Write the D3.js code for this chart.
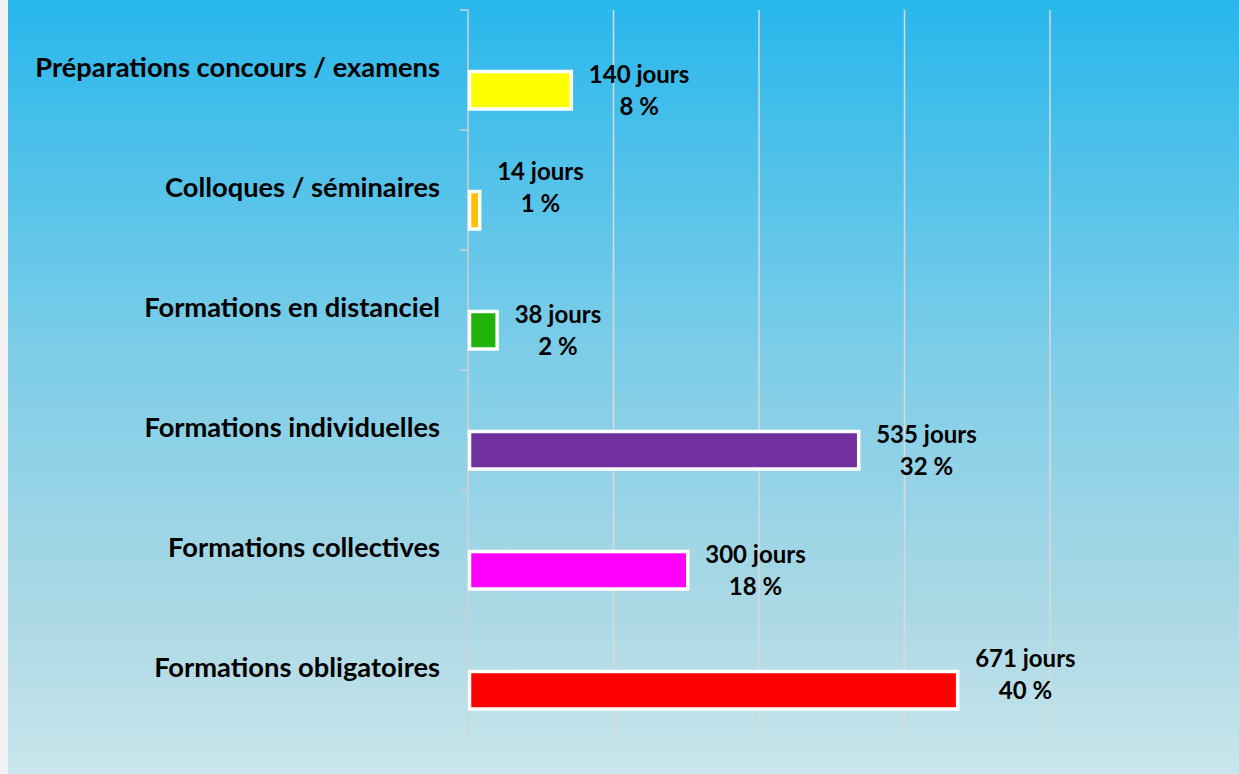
<!DOCTYPE html>
<html>
<head>
<meta charset="utf-8">
<script src="https://cdn.jsdelivr.net/npm/d3@7"></script>
<style>
  html, body { margin: 0; padding: 0; background: #fff; }
  svg { display: block; }
  .cat { font-family: Lato, "Open Sans", sans-serif; font-weight: bold; font-size: 27.3px; fill: #000; }
  .val { font-family: Lato, "Open Sans", sans-serif; font-weight: bold; font-size: 24px; fill: #000; }
</style>
</head>
<body>
<div id="chart"></div>
<script>
var svgWidth = 1239;
var svgHeight = 774;

// data, top to bottom
var categories = [
  "Préparations concours / examens",
  "Colloques / séminaires",
  "Formations en distanciel",
  "Formations individuelles",
  "Formations collectives",
  "Formations obligatoires"
];
var jours = [140, 14, 38, 535, 300, 671];
var pourcent = [8, 1, 2, 32, 18, 40];
var serieVide = [0, 0, 0, 0, 0, 0];   // the empty second series (only its white outline shows)
var gridTicks = [0, 200, 400, 600, 800];
var colors = ["#ffff00", "#ffc000", "#21b20c", "#7030a0", "#ff00ff", "#ff0000"];

var svg = d3.select("#chart").append("svg")
    .attr("width", svgWidth)
    .attr("height", svgHeight);

// background gradient
var defs = svg.append("defs");
var grad = defs.append("linearGradient")
    .attr("id", "bg")
    .attr("x1", 0).attr("y1", 0).attr("x2", 0).attr("y2", 1);
grad.append("stop").attr("offset", "0%").attr("stop-color", "#28b7ec");
grad.append("stop").attr("offset", "45%").attr("stop-color", "#7ccde8");
grad.append("stop").attr("offset", "80%").attr("stop-color", "#add9e5");
grad.append("stop").attr("offset", "100%").attr("stop-color", "#c8e6ec");

svg.append("rect")
    .attr("width", svgWidth).attr("height", svgHeight)
    .attr("fill", "#f2f2f2");
svg.append("rect")
    .attr("x", 8).attr("y", 0)
    .attr("width", svgWidth - 8).attr("height", svgHeight)
    .attr("fill", "url(#bg)");

var x = d3.scaleLinear()
    .domain([0, 800])
    .range([468, 1050]);

var y = d3.scaleBand()
    .domain(categories)
    .range([10, 730])
    .paddingInner(0.325)
    .paddingOuter(0.1625);

var ySub = d3.scaleBand()
    .domain(["vide", "jours"])
    .range([0, y.bandwidth()]);

// gridlines
svg.append("g")
    .selectAll("line")
    .data(gridTicks.slice(1))
    .enter()
    .append("line")
    .attr("x1", d => x(d)).attr("x2", d => x(d))
    .attr("y1", 10).attr("y2", 735)
    .attr("stroke", "#d9d9d9")
    .attr("stroke-width", 1.5);

// category axis
var leftAxis = d3.axisLeft(y).tickSize(0).tickFormat("");
var yAxis = svg.append("g")
    .attr("transform", `translate(${x(0)},0)`)
    .call(leftAxis);
yAxis.select(".domain")
    .attr("stroke", "#d0d0d0")
    .attr("stroke-width", 1.5)
    .attr("d", `M0,10V735`);

// tick marks between categories
var bounds = categories.map(c => y(c) - y.step() * y.paddingInner() / 2);
bounds.push(730);
yAxis.selectAll(".sep")
    .data(bounds)
    .enter()
    .append("line")
    .attr("x1", -8).attr("x2", 0)
    .attr("y1", d => d).attr("y2", d => d)
    .attr("stroke", "#d0d0d0")
    .attr("stroke-width", 1.5);

// empty series: zero-width bars, only the white outline is visible
svg.append("g")
    .selectAll("rect")
    .data(serieVide)
    .enter()
    .append("rect")
    .attr("x", x(0) + 1)
    .attr("y", (d, i) => y(categories[i]) + ySub("vide") + 2)
    .attr("width", d => x(d) - x(0))
    .attr("height", ySub.bandwidth() - 3)
    .attr("fill", "none")
    .attr("stroke", "#ffffff")
    .attr("stroke-width", 3);

// bars
svg.append("g")
    .selectAll("rect")
    .data(jours)
    .enter()
    .append("rect")
    .attr("x", x(0) + 1.5)
    .attr("y", (d, i) => y(categories[i]) + ySub("jours") + 1.5)
    .attr("width", d => x(d) - x(0))
    .attr("height", ySub.bandwidth() - 3)
    .attr("fill", (d, i) => colors[i])
    .attr("stroke", "#ffffff")
    .attr("stroke-width", 3.5);

// category labels
svg.append("g")
    .selectAll("text")
    .data(categories)
    .enter()
    .append("text")
    .classed("cat", true)
    .attr("x", 440)
    .attr("y", d => y(d) + y.bandwidth() / 2)
    .attr("dy", "0.27em")
    .attr("text-anchor", "end")
    .text(d => d);

// value labels (two of them were dragged up by hand in the original)
var labelShift = { "Colloques / séminaires": -23, "Formations obligatoires": -16 };

var valLabels = svg.append("g")
    .selectAll("text")
    .data(jours)
    .enter()
    .append("text")
    .classed("val", true)
    .attr("text-anchor", "middle");

valLabels.each(function(d, i) {
    var t = d3.select(this);
    var cy = y(categories[i]) + ySub("jours") + ySub.bandwidth() / 2 + (labelShift[categories[i]] || 0);
    var l1 = t.append("tspan").attr("y", cy - 7).text(`${d} jours`);
    var w = l1.node().getComputedTextLength();
    var cx = x(d) + 19 + w / 2;
    l1.attr("x", cx);
    t.append("tspan").attr("x", cx).attr("y", cy + 25).text(`${pourcent[i]} %`);
});
</script>
</body>
</html>
